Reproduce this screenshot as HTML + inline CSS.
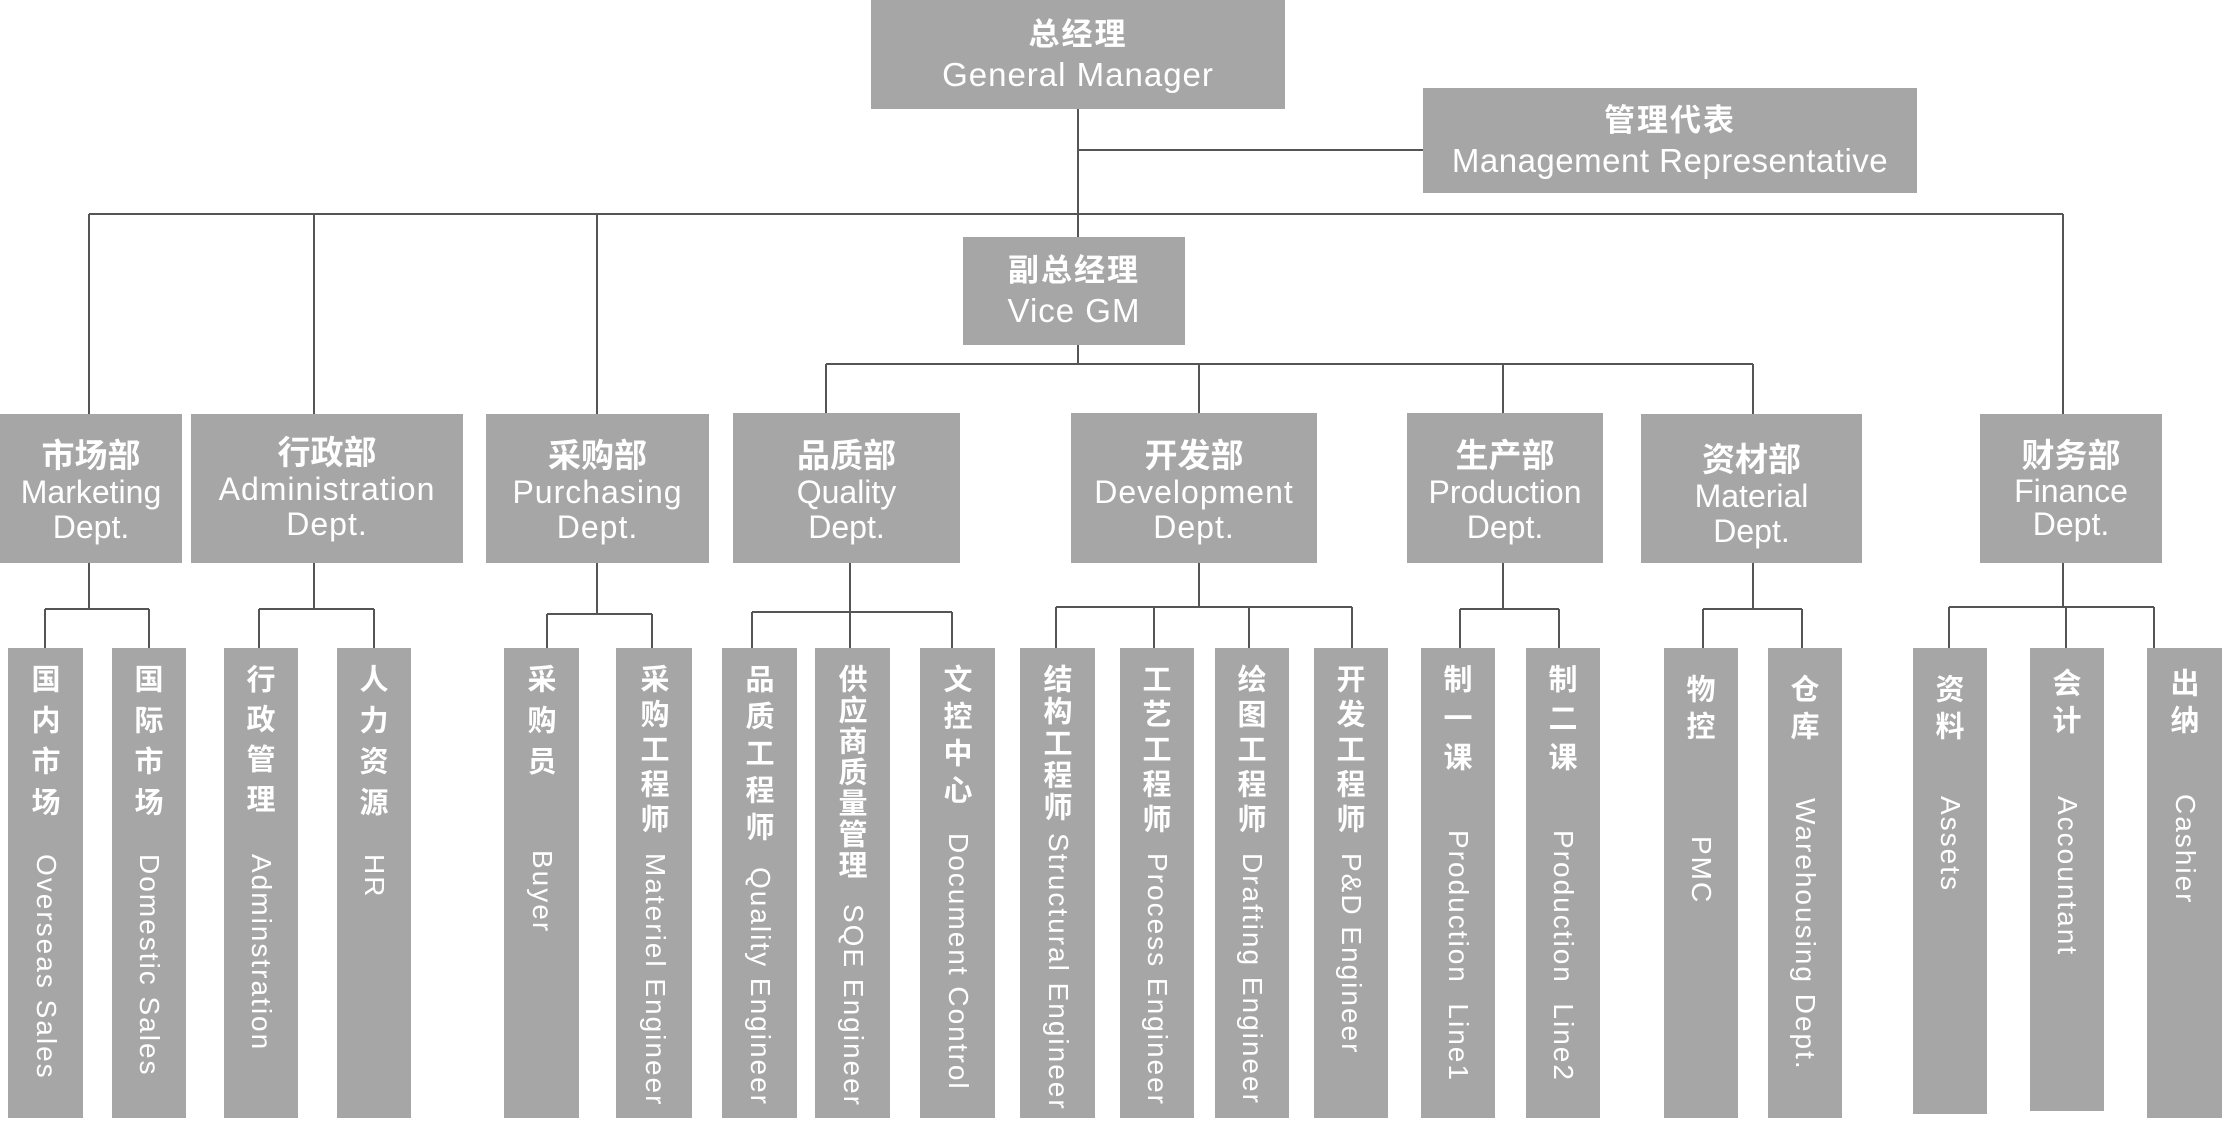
<!DOCTYPE html>
<html><head><meta charset="utf-8"><style>
body{margin:0;width:2222px;height:1147px;background:#fff;position:relative;overflow:hidden;font-family:"Liberation Sans","Noto Sans CJK SC",sans-serif;color:#fff}
.b{position:absolute;background:#a6a6a6;text-align:center}
.zh{font-family:"Noto Sans CJK SC","WenQuanYi Zen Hei",sans-serif;font-weight:bold}
.d .zh{font-size:33px;line-height:44px}
.d .en{font-size:32px;line-height:35px}
.leaf .c{position:absolute;left:0;width:100%;writing-mode:vertical-rl;font-family:"Noto Sans CJK SC",sans-serif;font-weight:bold;font-size:29px;letter-spacing:6px;line-height:74px}
.leaf .e{position:absolute;left:0;width:100%;writing-mode:vertical-rl;font-size:28px;letter-spacing:2px;line-height:74px;white-space:nowrap}
svg{position:absolute;left:0;top:0}
</style></head><body>
<svg width="2222" height="1147"><g stroke="#555" stroke-width="2" fill="none">
<path d="M1078 108V364M1078 150H1423M89 214H2063M89 214V414M314 214V414M597 214V414M2063 214V414M826 364H1753M826 364V414M1199 364V414M1503 364V414M1753 364V414"/>
<path d="M89 562V609M45 609H149M45 609V649M149 609V649"/>
<path d="M314 562V609M259 609H374M259 609V649M374 609V649"/>
<path d="M597 562V614M547 614H652M547 614V649M652 614V649"/>
<path d="M850 562V649M752 612H952M752 612V649M952 612V649"/>
<path d="M1199 562V607M1056 607H1352M1056 607V649M1154 607V649M1249 607V649M1352 607V649"/>
<path d="M1503 562V609M1460 609H1559M1460 609V649M1559 609V649"/>
<path d="M1753 562V609M1703 609H1802M1703 609V649M1802 609V649"/>
<path d="M2063 562V607M1949 607H2154M1949 607V649M2066 607V649M2154 607V649"/>
</g></svg>

<div class="b" style="left:871px;top:0;width:414px;height:109px"><div class="zh" style="font-size:31px;margin-top:12px;line-height:40px;letter-spacing:2px">总经理</div><div style="font-size:33px;line-height:46px;letter-spacing:1px">General Manager</div></div>
<div class="b" style="left:1423px;top:88px;width:494px;height:105px"><div class="zh" style="font-size:31px;margin-top:10px;line-height:40px;letter-spacing:2px">管理代表</div><div style="font-size:33px;line-height:46px;letter-spacing:0.5px">Management Representative</div></div>
<div class="b" style="left:963px;top:237px;width:222px;height:108px"><div class="zh" style="font-size:31px;margin-top:11px;line-height:40px;letter-spacing:2px">副总经理</div><div style="font-size:33px;line-height:46px;letter-spacing:1px">Vice GM</div></div>

<div class="b d" style="left:0;top:414px;width:182px;height:149px"><div class="zh" style="margin-top:17px">市场部</div><div class="en">Marketing<br>Dept.</div></div>
<div class="b d" style="left:191px;top:414px;width:272px;height:149px"><div class="zh" style="margin-top:14px">行政部</div><div class="en" style="letter-spacing:1px">Administration<br>Dept.</div></div>
<div class="b d" style="left:486px;top:414px;width:223px;height:149px"><div class="zh" style="margin-top:17px">采购部</div><div class="en" style="letter-spacing:1px">Purchasing<br>Dept.</div></div>
<div class="b d" style="left:733px;top:413px;width:227px;height:150px"><div class="zh" style="margin-top:18px">品质部</div><div class="en">Quality<br>Dept.</div></div>
<div class="b d" style="left:1071px;top:413px;width:246px;height:150px"><div class="zh" style="margin-top:18px">开发部</div><div class="en" style="letter-spacing:1px">Development<br>Dept.</div></div>
<div class="b d" style="left:1407px;top:413px;width:196px;height:150px"><div class="zh" style="margin-top:18px">生产部</div><div class="en">Production<br>Dept.</div></div>
<div class="b d" style="left:1641px;top:414px;width:221px;height:149px"><div class="zh" style="margin-top:21px">资材部</div><div class="en">Material<br>Dept.</div></div>
<div class="b d" style="left:1980px;top:414px;width:182px;height:149px"><div class="zh" style="margin-top:17px">财务部</div><div class="en" style="line-height:33px">Finance<br>Dept.</div></div>

<div class="b leaf" style="left:8px;top:648px;width:75px;height:470px"><div class="c" style="top:16px;letter-spacing:12px">国内市场</div><div class="e" style="top:206px">Overseas Sales</div></div>
<div class="b leaf" style="left:112px;top:648px;width:74px;height:470px"><div class="c" style="top:16px;letter-spacing:12px">国际市场</div><div class="e" style="top:206px">Domestic Sales</div></div>
<div class="b leaf" style="left:224px;top:648px;width:74px;height:470px"><div class="c" style="top:16px;letter-spacing:11px">行政管理</div><div class="e" style="top:206px">Adminstration</div></div>
<div class="b leaf" style="left:337px;top:648px;width:74px;height:470px"><div class="c" style="top:16px;letter-spacing:12px">人力资源</div><div class="e" style="top:206px">HR</div></div>
<div class="b leaf" style="left:504px;top:648px;width:75px;height:470px"><div class="c" style="top:16px;letter-spacing:12px">采购员</div><div class="e" style="top:202px">Buyer</div></div>
<div class="b leaf" style="left:616px;top:648px;width:76px;height:470px"><div class="c" style="top:16px">采购工程师</div><div class="e" style="top:205px">Materiel Engineer</div></div>
<div class="b leaf" style="left:722px;top:648px;width:75px;height:470px"><div class="c" style="top:16px;letter-spacing:8px">品质工程师</div><div class="e" style="top:219px">Quality Engineer</div></div>
<div class="b leaf" style="left:815px;top:648px;width:75px;height:470px"><div class="c" style="top:16px;letter-spacing:2px">供应商质量管理</div><div class="e" style="top:256px">SQE Engineer</div></div>
<div class="b leaf" style="left:920px;top:648px;width:75px;height:470px"><div class="c" style="top:16px;letter-spacing:8px">文控中心</div><div class="e" style="top:185px">Document Control</div></div>
<div class="b leaf" style="left:1020px;top:648px;width:75px;height:470px"><div class="c" style="top:16px;letter-spacing:3px">结构工程师</div><div class="e" style="top:185px">Structural Engineer</div></div>
<div class="b leaf" style="left:1120px;top:648px;width:74px;height:470px"><div class="c" style="top:16px">工艺工程师</div><div class="e" style="top:205px">Process Engineer</div></div>
<div class="b leaf" style="left:1215px;top:648px;width:74px;height:470px"><div class="c" style="top:16px">绘图工程师</div><div class="e" style="top:205px">Drafting Engineer</div></div>
<div class="b leaf" style="left:1314px;top:648px;width:74px;height:470px"><div class="c" style="top:16px">开发工程师</div><div class="e" style="top:205px">P&amp;D Engineer</div></div>
<div class="b leaf" style="left:1421px;top:648px;width:74px;height:470px"><div class="c" style="top:16px;letter-spacing:10px">制一课</div><div class="e" style="top:182px">Production&nbsp;&nbsp;Line1</div></div>
<div class="b leaf" style="left:1526px;top:648px;width:74px;height:470px"><div class="c" style="top:16px;letter-spacing:10px">制二课</div><div class="e" style="top:182px">Production&nbsp;&nbsp;Line2</div></div>
<div class="b leaf" style="left:1664px;top:648px;width:74px;height:470px"><div class="c" style="top:26px;letter-spacing:8px">物控</div><div class="e" style="top:188px">PMC</div></div>
<div class="b leaf" style="left:1768px;top:648px;width:74px;height:470px"><div class="c" style="top:26px;letter-spacing:8px">仓库</div><div class="e" style="top:150px">Warehousing Dept.</div></div>
<div class="b leaf" style="left:1913px;top:648px;width:74px;height:466px"><div class="c" style="top:26px;letter-spacing:8px">资料</div><div class="e" style="top:148px">Assets</div></div>
<div class="b leaf" style="left:2030px;top:648px;width:74px;height:463px"><div class="c" style="top:20px;letter-spacing:8px">会计</div><div class="e" style="top:148px">Accountant</div></div>
<div class="b leaf" style="left:2147px;top:648px;width:75px;height:470px"><div class="c" style="top:20px;letter-spacing:8px">出纳</div><div class="e" style="top:146px">Cashier</div></div>
</body></html>
